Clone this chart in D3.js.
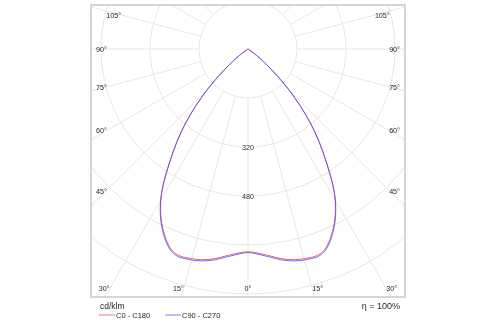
<!DOCTYPE html>
<html>
<head>
<meta charset="utf-8">
<script src="https://cdn.jsdelivr.net/npm/d3@7"></script>
<style>
  html, body { margin: 0; padding: 0; background: #fff; }
  svg { display: block; will-change: transform; }
  text { font-family: "Liberation Sans", Arial, sans-serif; fill: #222; fill-opacity: 0.98; }
</style>
</head>
<body>
<svg id="chart" width="500" height="325"></svg>
<script>
// Luminous intensity distribution, cd/klm, gamma measured from nadir
const gammaAngles = [0, 5, 10, 15, 20, 25, 30, 35, 40, 45, 50, 55, 60, 65, 70, 75, 80, 85, 90];
const c0c180  = [662, 675, 697, 709, 707, 654, 569, 441, 319, 190, 79, 18, 0, 0, 0, 0, 0, 0, 0];
const c90c270 = [665, 679, 701, 713, 711, 658, 571, 442, 320, 190, 79, 18, 0, 0, 0, 0, 0, 0, 0];

// Polar grid
const ringValues = [160, 320, 480, 640, 800, 960];
const ringLabels = [320, 480];
const sideTicks = [45, 60, 75, 90, 105];
const bottomTicks = [0, 15, 30];
const spokeStep = 15;

const seriesNames = ["C0 - C180", "C90 - C270"];
const seriesColors = ["#f0494f", "#4f55f0"];
const legendColors = ["#f5a6a8", "#a8aaf2"];
const unitLabel = "cd/klm";
const efficiencyLabel = "η = 100%";

const svg = d3.select("#chart");
const box = { x0: 91, x1: 405, y0: 5, y1: 297 };
const cx = 248, cy = 49;

const r = d3.scaleLinear().domain([0, 160]).range([0, 49]);

svg.append("defs").append("clipPath").attr("id", "plotClip")
  .append("rect")
  .attr("x", box.x0).attr("y", box.y0)
  .attr("width", box.x1 - box.x0).attr("height", box.y1 - box.y0);

const grid = svg.append("g").attr("clip-path", "url(#plotClip)");

// concentric rings
grid.selectAll("circle.ring").data(ringValues).join("circle")
  .attr("class", "ring")
  .attr("cx", cx).attr("cy", cy)
  .attr("r", d => r(d))
  .attr("fill", "none")
  .attr("stroke", "#e6e6e6")
  .attr("stroke-width", 1);

// spokes, starting at the first ring
const spokes = d3.range(0, 360, spokeStep);
const rInner = r(ringValues[0]);
const rOuter = 600;
grid.selectAll("line.spoke").data(spokes).join("line")
  .attr("class", "spoke")
  .attr("x1", d => cx + rInner * Math.sin(d * Math.PI / 180))
  .attr("y1", d => cy + rInner * Math.cos(d * Math.PI / 180))
  .attr("x2", d => cx + rOuter * Math.sin(d * Math.PI / 180))
  .attr("y2", d => cy + rOuter * Math.cos(d * Math.PI / 180))
  .attr("stroke", "#e6e6e6")
  .attr("stroke-width", 1);

// ring value labels along the nadir spoke
svg.append("g").selectAll("text").data(ringLabels).join("text")
  .attr("x", cx)
  .attr("y", d => cy + r(d))
  .attr("text-anchor", "middle")
  .attr("dominant-baseline", "central")
  .attr("font-size", 7.2)
  .attr("stroke", "#fff")
  .attr("stroke-width", 2.5)
  .attr("paint-order", "stroke")
  .text(d => d);

// intensity curves: left half (C180 / C270) then right half (C0 / C90)
function curvePoints(values) {
  const pts = [];
  for (let i = gammaAngles.length - 1; i >= 0; i--) {
    pts.push([Math.PI + gammaAngles[i] * Math.PI / 180, r(values[i])]);
  }
  for (let i = 1; i < gammaAngles.length; i++) {
    pts.push([Math.PI - gammaAngles[i] * Math.PI / 180, r(values[i])]);
  }
  return pts;
}

const radial = d3.lineRadial()
  .angle(d => d[0])
  .radius(d => d[1])
  .curve(d3.curveCatmullRom.alpha(0.5));

const curves = svg.append("g")
  .attr("transform", `translate(${cx},${cy})`);

[c0c180, c90c270].forEach((vals, i) => {
  curves.append("path")
    .attr("d", radial(curvePoints(vals)))
    .attr("fill", "none")
    .attr("stroke", seriesColors[i])
    .attr("stroke-width", 1)
    .attr("stroke-opacity", 0.85);
});

// angle labels placed where each spoke meets an inset frame
const inset = { dx: 142, top: cy - 15, bottom: 239.5 };
const labelMin = 96, labelMax = 400;

function placeAngle(deg, side) {
  const a = deg * Math.PI / 180;
  const ux = side * Math.sin(a), uy = Math.cos(a);
  let s = Infinity;
  if (Math.abs(ux) > 1e-9) s = Math.min(s, inset.dx / Math.abs(ux));
  if (uy > 1e-9) s = Math.min(s, inset.bottom / uy);
  if (uy < -1e-9) s = Math.min(s, inset.top / -uy);
  const x = cx + s * ux, y = cy + s * uy;
  const anchor = Math.abs(ux) < 1e-9 ? "middle" : (side < 0 ? "end" : "start");
  const t = svg.append("text")
    .attr("x", x).attr("y", y)
    .attr("text-anchor", anchor)
    .attr("dominant-baseline", "central")
    .attr("font-size", 7.2)
    .text(deg + "°");
  const w = t.node().getComputedTextLength();
  if (anchor === "end" && x - w < labelMin) t.attr("x", labelMin + w);
  if (anchor === "start" && x + w > labelMax) t.attr("x", labelMax - w);
}

sideTicks.forEach(d => { placeAngle(d, -1); placeAngle(d, 1); });
bottomTicks.forEach(d => {
  if (d === 0) placeAngle(0, 1);
  else { placeAngle(d, -1); placeAngle(d, 1); }
});

// frame
svg.append("rect")
  .attr("x", box.x0).attr("y", box.y0)
  .attr("width", box.x1 - box.x0).attr("height", box.y1 - box.y0)
  .attr("fill", "none")
  .attr("stroke", "#c8c8c8")
  .attr("stroke-width", 1.5);

// footer: unit, legend and efficiency
svg.append("text")
  .attr("x", 100).attr("y", 309)
  .attr("font-size", 8.5)
  .text(unitLabel);

svg.append("text")
  .attr("x", 400).attr("y", 309)
  .attr("text-anchor", "end")
  .attr("font-size", 9)
  .text(efficiencyLabel);

const legendX = [99, 165];
const legend = svg.append("g");
seriesNames.forEach((name, i) => {
  legend.append("line")
    .attr("x1", legendX[i]).attr("x2", legendX[i] + 16)
    .attr("y1", 315).attr("y2", 315)
    .attr("stroke", legendColors[i])
    .attr("stroke-width", 1.5);
  legend.append("text")
    .attr("x", legendX[i] + 17).attr("y", 318)
    .attr("font-size", 7.5)
    .text(name);
});
</script>
</body>
</html>
